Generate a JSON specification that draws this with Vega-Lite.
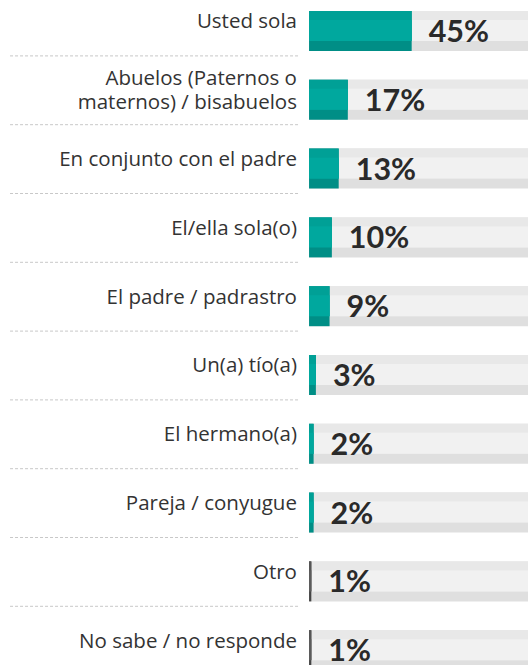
{
  "$schema": "https://vega.github.io/schema/vega-lite/v6.json",
  "width": 528,
  "height": {"step": 68.8},
  "padding": 0,
  "autosize": {"type": "none"},
  "background": "white",
  "config": {"view": {"stroke": null}},
  "data": {
    "values": [
      {"label": "Usted sola", "value": 45},
      {"label": "Abuelos (Paternos o\nmaternos) / bisabuelos", "value": 17},
      {"label": "En conjunto con el padre", "value": 13},
      {"label": "El/ella sola(o)", "value": 10},
      {"label": "El padre / padrastro", "value": 9},
      {"label": "Un(a) tío(a)", "value": 3},
      {"label": "El hermano(a)", "value": 2},
      {"label": "Pareja / conyugue", "value": 2},
      {"label": "Otro", "value": 1},
      {"label": "No sabe / no responde", "value": 1}
    ]
  },
  "encoding": {
    "y": {"field": "label", "type": "nominal", "sort": null, "axis": null, "scale": {"paddingInner": 0, "paddingOuter": 0}}
  },
  "layer": [
    {
      "transform": [{"filter": "datum.label != 'No sabe / no responde'"}],
      "mark": {"type": "rule", "strokeDash": [3, 2], "stroke": "#c8c8c8", "strokeWidth": 1, "yOffset": 21.5},
      "encoding": {
        "x": {"datum": -131.1, "type": "quantitative", "scale": {"domain": [-135.5, 96], "nice": false, "zero": false}, "axis": null},
        "x2": {"datum": -4.8}
      }
    },
    {
      "mark": {"type": "bar", "height": 40, "yOffset": -3.4, "color": "#dfdfdf", "clip": true},
      "encoding": {
        "x": {"datum": 0, "type": "quantitative", "scale": {"domain": [-135.5, 96], "nice": false, "zero": false}, "axis": null},
        "x2": {"datum": 100}
      }
    },
    {
      "mark": {"type": "bar", "height": 30, "yOffset": -8.4, "color": "#e8e8e8", "clip": true},
      "encoding": {
        "x": {"datum": 0, "type": "quantitative", "scale": {"domain": [-135.5, 96], "nice": false, "zero": false}, "axis": null},
        "x2": {"datum": 100}
      }
    },
    {
      "mark": {"type": "bar", "height": 21, "yOffset": -3.9, "color": "#f1f1f1", "clip": true},
      "encoding": {
        "x": {"datum": 0, "type": "quantitative", "scale": {"domain": [-135.5, 96], "nice": false, "zero": false}, "axis": null},
        "x2": {"datum": 100}
      }
    },
    {
      "mark": {"type": "bar", "height": 40, "yOffset": -3.4},
      "encoding": {
        "x": {"field": "value", "type": "quantitative", "scale": {"domain": [-135.5, 96], "nice": false, "zero": false}, "axis": null},
        "x2": {"datum": 0},
        "color": {"condition": {"test": "datum.value < 2", "value": "#454545"}, "value": "#008e86"}
      }
    },
    {
      "mark": {"type": "bar", "height": 30, "yOffset": -8.4},
      "encoding": {
        "x": {"field": "value", "type": "quantitative", "scale": {"domain": [-135.5, 96], "nice": false, "zero": false}, "axis": null},
        "x2": {"datum": 0},
        "color": {"condition": {"test": "datum.value < 2", "value": "#555555"}, "value": "#00a096"}
      }
    },
    {
      "mark": {"type": "bar", "height": 21, "yOffset": -3.9},
      "encoding": {
        "x": {"field": "value", "type": "quantitative", "scale": {"domain": [-135.5, 96], "nice": false, "zero": false}, "axis": null},
        "x2": {"datum": 0},
        "color": {"condition": {"test": "datum.value < 2", "value": "#5c5c5c"}, "value": "#00a89e"}
      }
    },
    {
      "mark": {"type": "text", "align": "right", "baseline": "middle", "yOffset": {"expr": "indexof(datum.label, '\\n') >= 0 ? -24 : -12.1"}, "font": "Open Sans", "fontSize": 20.5, "lineHeight": 24, "lineBreak": "\n", "color": "#333333"},
      "encoding": {
        "x": {"datum": -5.3, "type": "quantitative", "scale": {"domain": [-135.5, 96], "nice": false, "zero": false}, "axis": null},
        "text": {"field": "label", "type": "nominal"}
      }
    },
    {
      "mark": {"type": "text", "align": "left", "baseline": "alphabetic", "dx": 17, "yOffset": 7.6, "font": "Lato", "fontWeight": "bold", "fontSize": 30.5, "color": "#2a2a2a", "text": {"expr": "datum.value + '%'"}},
      "encoding": {
        "x": {"field": "value", "type": "quantitative", "scale": {"domain": [-135.5, 96], "nice": false, "zero": false}, "axis": null}
      }
    }
  ]
}
